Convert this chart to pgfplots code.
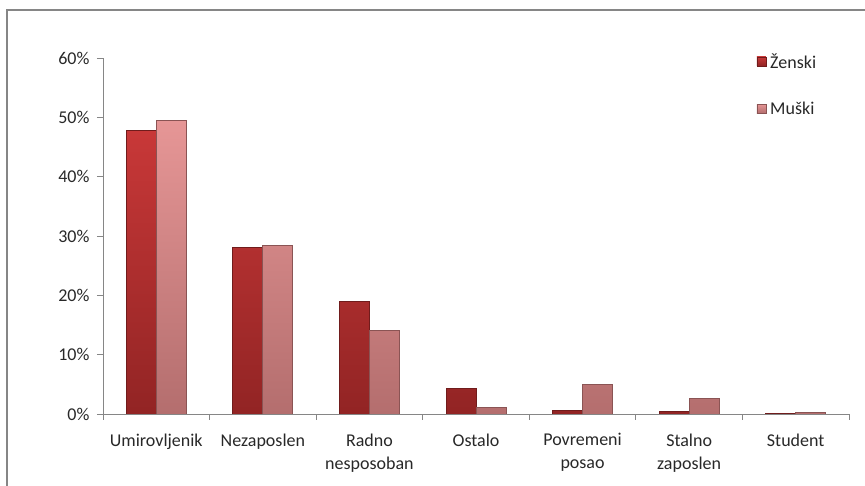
\documentclass[border=0pt]{standalone}
\usepackage{fontspec}
\setmainfont{Carlito}
\usepackage{pgfplots}
\pgfplotsset{compat=1.18}

% bar colours: top and bottom of the vertical gradient, and the outline
\definecolor{zTop}{RGB}{200,56,56}
\definecolor{zBot}{RGB}{146,36,36}
\definecolor{zEdge}{RGB}{112,28,28}
\definecolor{mTop}{RGB}{230,150,150}
\definecolor{mBot}{RGB}{180,110,110}
\definecolor{mEdge}{RGB}{138,84,84}
\definecolor{axisgray}{RGB}{134,134,134}
\definecolor{labelgray}{RGB}{40,40,40}

\begin{document}
\begin{tikzpicture}
\path[use as bounding box] (0,0) rectangle (865pt,486pt);
% chart frame: only its top and left sides fall on the page
\begin{scope}
  \clip (0,0) rectangle (865pt,486pt);
  \draw[axisgray, line width=1.3pt] (880pt,476pt) -- (7pt,476pt) -- (7pt,-20pt);
\end{scope}
\begin{axis}[
  at={(103pt,72pt)}, anchor=south west,
  scale only axis, width=746pt, height=356pt,
  xmin=-0.5, xmax=6.5, ymin=0, ymax=60,
  axis x line=bottom, axis y line=left,
  axis line style={-, draw=axisgray, line width=0.8pt},
  font=\fontsize{18}{23}\selectfont,
  /pgf/number format/assume math mode=true,
  ybar=0pt, bar width=30pt,
  xtick={0,...,6},
  xticklabels={Umirovljenik, Nezaposlen, {Radno\\nesposoban}, Ostalo, {Povremeni\\posao}, {Stalno\\zaposlen}, Student},
  x tick label style={align=center, text=labelgray, yshift=-10pt},
  y tick label style={text=labelgray, xshift=-4pt},
  major x tick style={draw=none},
  minor xtick={-0.5,0.5,...,6.5},
  tick align=outside,
  major tick length=6pt, minor tick length=6pt,
  tick style={draw=axisgray, line width=0.8pt},
  ytick={0,10,...,60},
  yticklabel={\pgfmathprintnumber{\tick}\%},
  legend style={at={(0.872,1.025)}, anchor=north west, draw=none, fill=none,
    row sep=28pt, font=\fontsize{18}{23}\selectfont, text=labelgray,
    nodes={inner xsep=4pt}},
  legend cell align=left,
  legend image code/.code={\draw[#1, line width=0.5pt] (0pt,-4.5pt) rectangle (9pt,4.5pt);},
]
\addplot[draw=zEdge, top color=zTop, bottom color=zBot, line width=0.8pt]
  coordinates {(0,47.8) (1,28.0) (2,19.0) (3,4.3) (4,0.6) (5,0.4) (6,0.1)};
\addplot[draw=mEdge, top color=mTop, bottom color=mBot, line width=0.8pt]
  coordinates {(0,49.5) (1,28.4) (2,14.1) (3,1.1) (4,5.0) (5,2.6) (6,0.2)};
\legend{Ženski, Muški}
\end{axis}
\end{tikzpicture}
\end{document}
